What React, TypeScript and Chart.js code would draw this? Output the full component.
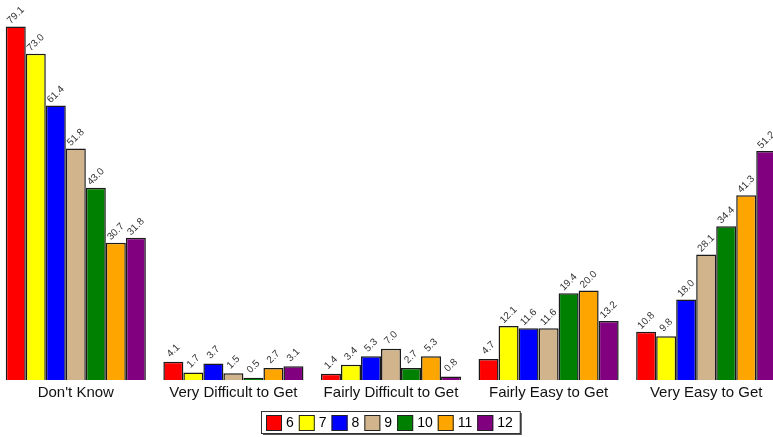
import React, { useEffect, useRef } from "react";
import { Chart, registerables } from "chart.js";

Chart.register(...registerables);

const categories = [
  "Don't Know",
  "Very Difficult to Get",
  "Fairly Difficult to Get",
  "Fairly Easy to Get",
  "Very Easy to Get",
];
const seriesNames = ["6", "7", "8", "9", "10", "11", "12"];
const seriesColors = ["#FF0000", "#FFFF00", "#0000FF", "#D2B48C", "#008000", "#FFA500", "#800080"];

const grade6 = [79.1, 4.1, 1.4, 4.7, 10.8];
const grade7 = [73.0, 1.7, 3.4, 12.1, 9.8];
const grade8 = [61.4, 3.7, 5.3, 11.6, 18.0];
const grade9 = [51.8, 1.5, 7.0, 11.6, 28.1];
const grade10 = [43.0, 0.5, 2.7, 19.4, 34.4];
const grade11 = [30.7, 2.7, 5.3, 20.0, 41.3];
const grade12 = [31.8, 3.1, 0.8, 13.2, 51.2];

const seriesValues = [grade6, grade7, grade8, grade9, grade10, grade11, grade12];

const FONT = '"Liberation Sans", Arial, sans-serif';

const valueLabels = {
  id: "valueLabels",
  afterDatasetsDraw(chart: any) {
    const ctx = chart.ctx;
    ctx.save();
    ctx.font = `10px ${FONT}`;
    ctx.fillStyle = "#333";
    ctx.textAlign = "center";
    ctx.textBaseline = "middle";
    chart.data.datasets.forEach((ds: any, i: number) => {
      const meta = chart.getDatasetMeta(i);
      meta.data.forEach((bar: any, j: number) => {
        const v = ds.data[j];
        ctx.save();
        ctx.translate(bar.x, bar.y - 11);
        ctx.rotate(-Math.PI / 4);
        ctx.fillText(Number(v).toFixed(1), 0, 0);
        ctx.restore();
      });
    });
    ctx.restore();
  },
};

const boxedLegend = {
  id: "boxedLegend",
  afterDraw(chart: any) {
    const ctx = chart.ctx;
    ctx.save();
    ctx.font = `14px ${FONT}`;
    const items = chart.data.datasets.map((ds: any) => ({
      label: ds.label,
      color: ds.backgroundColor,
      w: ctx.measureText(ds.label).width,
    }));
    const sq = 16, gapA = 4, gapB = 5, padL = 5, padR = 7;
    let total = padL + padR;
    items.forEach((it: any, k: number) => {
      total += sq + gapA + it.w + (k < items.length - 1 ? gapB : 0);
    });
    const x0 = Math.round(chart.width / 2 - total / 2) - 1;
    const y0 = chart.height - 26;
    const h = 22;
    ctx.fillStyle = "#555";
    ctx.fillRect(x0 + 2, y0 + 2, total, h);
    ctx.fillStyle = "#fff";
    ctx.fillRect(x0, y0, total, h);
    ctx.strokeStyle = "#333";
    ctx.lineWidth = 1;
    ctx.strokeRect(x0 + 0.5, y0 + 0.5, total, h);
    let x = x0 + padL;
    const cy = y0 + h / 2 + 1;
    ctx.textAlign = "left";
    ctx.textBaseline = "middle";
    items.forEach((it: any) => {
      ctx.fillStyle = it.color;
      ctx.fillRect(x, cy - sq / 2, sq, sq);
      ctx.strokeStyle = "#222";
      ctx.strokeRect(x + 0.5, cy - sq / 2 + 0.5, sq - 1, sq - 1);
      x += sq + gapA;
      ctx.fillStyle = "#000";
      ctx.fillText(it.label, x, cy);
      x += it.w + gapB;
    });
    ctx.restore();
  },
};

export default function App() {
  const ref = useRef<HTMLCanvasElement | null>(null);
  useEffect(() => {
    if (!ref.current) return;
    const chart = new Chart(ref.current, {
      type: "bar",
      data: {
        labels: categories,
        datasets: seriesNames.map((name, i) => ({
          label: name,
          data: seriesValues[i],
          backgroundColor: seriesColors[i],
          borderColor: "#1a1a1a",
          borderWidth: 1.5,
          categoryPercentage: 0.889,
          barPercentage: 1,
        })),
      },
      options: {
        responsive: false,
        maintainAspectRatio: false,
        animation: false,
        layout: { padding: { top: 0, bottom: 31, left: 0, right: 0 } },
        plugins: {
          legend: { display: false },
          tooltip: { enabled: false },
        },
        scales: {
          x: {
            grid: { display: false, drawTicks: false },
            border: { display: false },
            ticks: { font: { size: 15, family: FONT }, color: "#111", padding: 4 },
          },
          y: { display: false, min: 0, max: 85 },
        },
      },
      plugins: [valueLabels, boxedLegend],
    });
    return () => chart.destroy();
  }, []);
  return (
    <div
      style={{
        position: "fixed",
        left: 0,
        top: 0,
        width: 773,
        height: 437,
        overflow: "hidden",
        background: "#fff",
      }}
    >
      <canvas
        ref={ref}
        width={788}
        height={437}
        style={{ position: "absolute", left: -3, top: 0, width: 788, height: 437 }}
      />
    </div>
  );
}
